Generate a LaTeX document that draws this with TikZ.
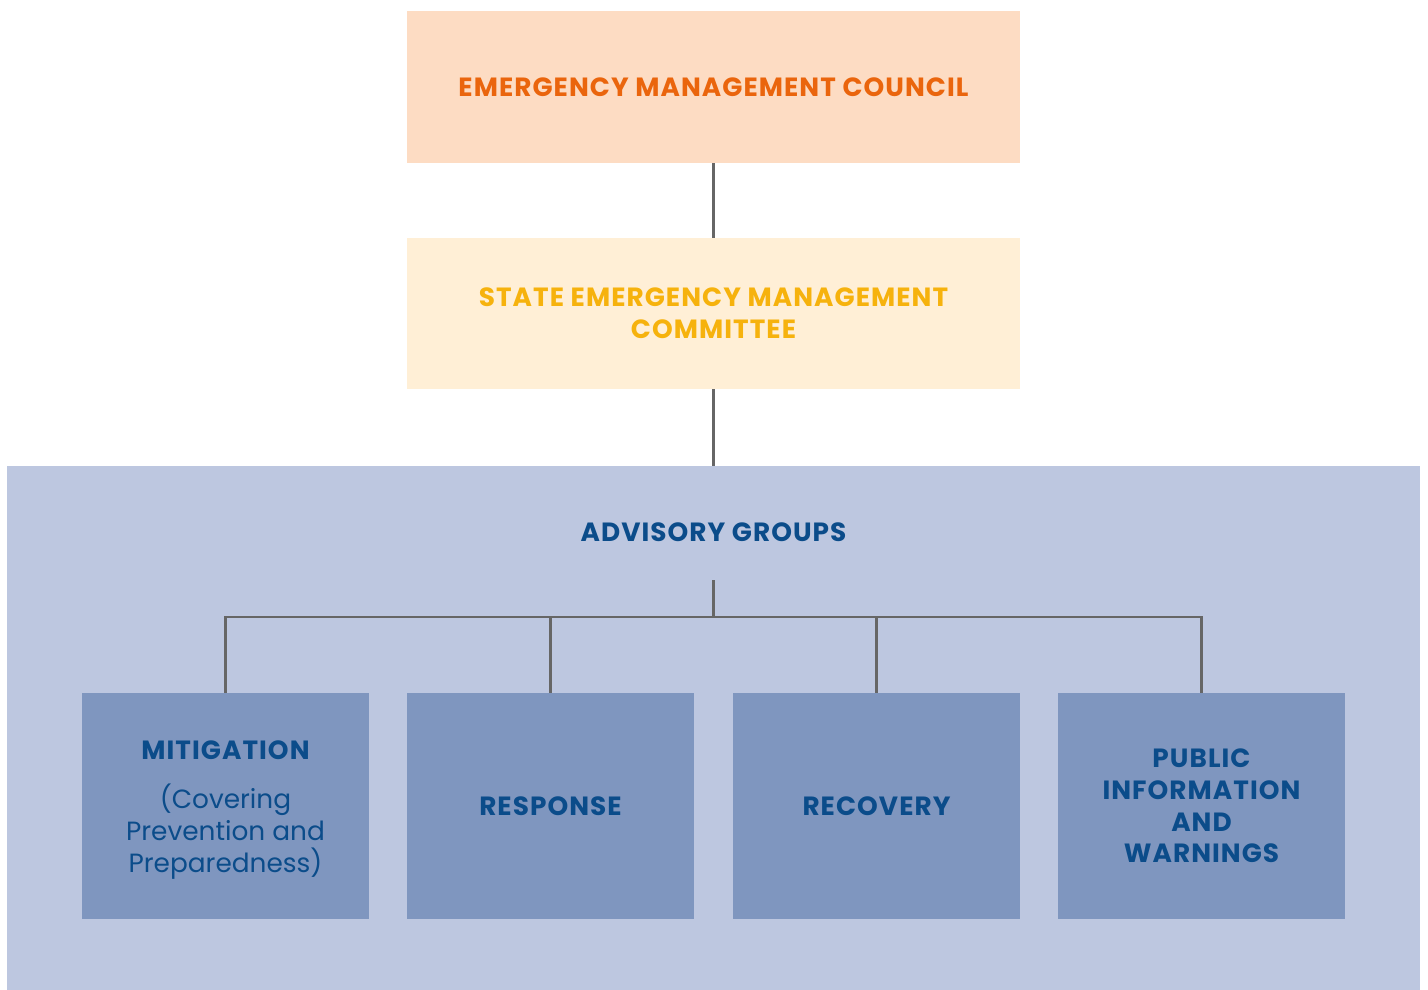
\documentclass[tikz,border=0pt]{standalone}
\usepackage{fontspec}
\setmainfont{Poppins}
\newfontfamily\capsfont[LetterSpace=4]{Poppins}
\newfontfamily\bodyfont{Poppins}
\newcommand\plainline[1]{{\bodyfont\mdseries #1}}
\definecolor{councilfill}{HTML}{FDDCC3}
\definecolor{counciltext}{HTML}{EA650D}
\definecolor{committeefill}{HTML}{FFEFD6}
\definecolor{committeetext}{HTML}{F6B20D}
\definecolor{advisoryfill}{HTML}{BDC7E0}
\definecolor{groupfill}{HTML}{7F96BF}
\definecolor{navytext}{HTML}{0B4C8A}
\definecolor{linkgray}{HTML}{666666}
\begin{document}
\begin{tikzpicture}[x=0.02cm,y=-0.02cm,
  headbox/.style={draw=none,minimum width=12.26cm,minimum height=3.02cm,
    align=center,inner sep=0pt,
    font=\capsfont\bfseries\fontsize{15}{18}\selectfont},
  grouptext/.style={align=center,inner sep=0pt,text=navytext,
    font=\capsfont\bfseries\fontsize{15}{18}\selectfont},
  groupbox/.style={grouptext,fill=groupfill,draw=none,
    minimum width=5.74cm,minimum height=4.52cm},
  link/.style={draw=linkgray,line width=1.4pt}]
\useasboundingbox (0,0) rectangle (1428,990);
% background panel for the advisory groups
\node[fill=advisoryfill,minimum width=28.26cm,minimum height=10.48cm,inner sep=0pt]
  (adv) at (713.5,728) {};
% council and committee
\node[headbox,fill=councilfill,text=counciltext,minimum height=3.04cm]
  (council) at (713.5,87) {EMERGENCY MANAGEMENT COUNCIL};
\node[headbox,fill=committeefill,text=committeetext]
  (committee) at (713.5,313.5) {STATE EMERGENCY MANAGEMENT\\COMMITTEE};
\node[grouptext] (advlabel) at (713.5,532) {ADVISORY GROUPS};
% the four advisory groups
\node[groupbox] (mit) at (225.5,806) {};
\node[grouptext] (mitlabel) at (225.5,810)
  {MITIGATION\\[10pt]\plainline{(Covering}\\\plainline{Prevention and}\\\plainline{Preparedness)}};
\node[groupbox] (resp) at (550.5,806) {RESPONSE};
\node[groupbox] (rec) at (876.5,806) {RECOVERY};
\node[groupbox] (pub) at (1201.5,806) {PUBLIC\\INFORMATION\\AND\\WARNINGS};
% connectors
\coordinate (hub) at (713.5,580);
\coordinate (bus) at (713.5,617);
\draw[link] (council.south) -- (committee.north);
\draw[link] (committee.south) -- (adv.north);
\draw[link] (hub) -- (bus);
\foreach \g in {mit,resp,rec,pub}
  \draw[link] (bus) -| (\g.north);
\end{tikzpicture}
\end{document}
